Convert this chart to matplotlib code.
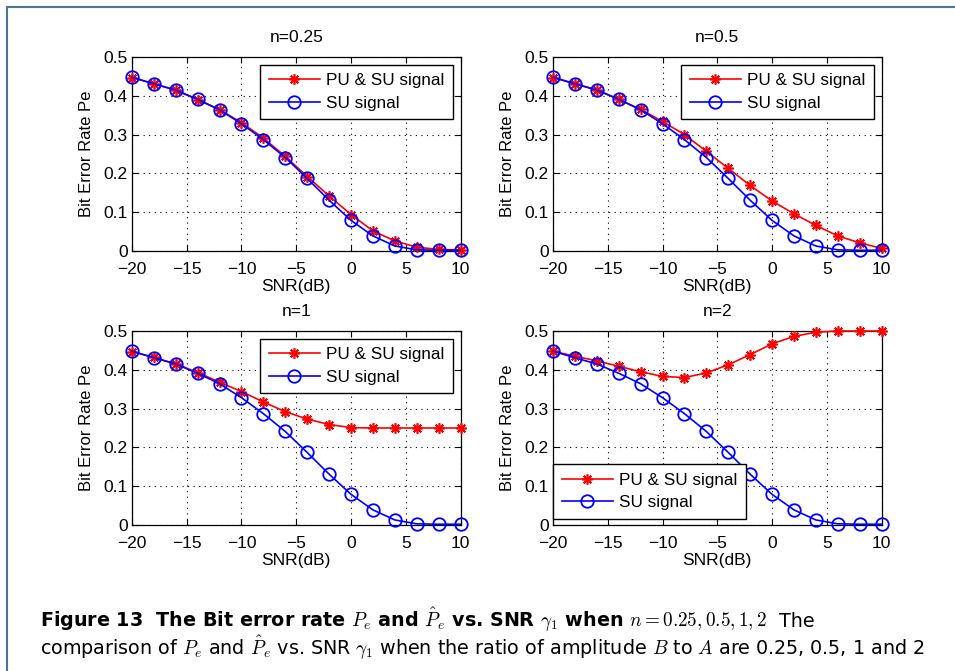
import matplotlib
matplotlib.use('Agg')
import matplotlib.pyplot as plt
from matplotlib.lines import Line2D

plt.rcParams['font.family'] = ['Liberation Sans', 'DejaVu Sans']
plt.rcParams['mathtext.fontset'] = 'cm'

# SNR values (dB)
snr = [-20, -18, -16, -14, -12, -10, -8, -6, -4, -2, 0, 2, 4, 6, 8, 10]

# SU signal only (same in all panels)
su = [0.448, 0.431, 0.415, 0.391, 0.364, 0.328, 0.287, 0.241, 0.187, 0.131,
      0.079, 0.039, 0.013, 0.003, 0.002, 0.002]

# PU & SU signal for each n
pu_025 = [0.447, 0.431, 0.414, 0.390, 0.364, 0.331, 0.291, 0.244, 0.192, 0.142,
          0.094, 0.052, 0.026, 0.010, 0.004, 0.003]
pu_05 = [0.447, 0.431, 0.415, 0.391, 0.365, 0.334, 0.300, 0.257, 0.213, 0.169,
         0.129, 0.096, 0.066, 0.039, 0.021, 0.007]
pu_1 = [0.447, 0.432, 0.415, 0.393, 0.368, 0.344, 0.317, 0.292, 0.273, 0.259,
        0.251, 0.250, 0.250, 0.250, 0.250, 0.250]
pu_2 = [0.448, 0.435, 0.423, 0.409, 0.395, 0.383, 0.380, 0.392, 0.413, 0.439,
        0.467, 0.486, 0.497, 0.500, 0.500, 0.500]

titles = ['n=0.25', 'n=0.5', 'n=1', 'n=2']
pu_all = [pu_025, pu_05, pu_1, pu_2]

fig = plt.figure(figsize=(9.55, 6.71), dpi=100)

# axes rectangles in figure fractions
lefts = [0.1382, 0.5791, 0.1382, 0.5791]
bottoms = [0.6259, 0.6259, 0.2176, 0.2176]
w, h = 0.3440, 0.2891

asterisk = (8, 2, 0)
fs = 12.5

for i in range(4):
    ax = fig.add_axes([lefts[i], bottoms[i], w, h])
    ax.plot(snr, pu_all[i], color='red', lw=1.2, marker=asterisk, ms=7.5,
            mew=1.2, label='PU & SU signal', clip_on=False, zorder=3)
    ax.plot(snr, su, color='blue', lw=1.2, marker='o', ms=9, mfc='none',
            mew=1.3, label='SU signal', clip_on=False, zorder=3)
    ax.set_xlim(-20, 10)
    ax.set_ylim(0, 0.5)
    ax.set_xticks([-20, -15, -10, -5, 0, 5, 10])
    ax.set_yticks([0, 0.1, 0.2, 0.3, 0.4, 0.5])
    ax.set_yticklabels(['0', '0.1', '0.2', '0.3', '0.4', '0.5'])
    ax.tick_params(direction='in', top=True, right=True, labelsize=fs,
                   length=4)
    ax.tick_params(axis='x', pad=8)
    ax.tick_params(axis='y', pad=3)
    ax.grid(True, linestyle=(0, (1, 4)), color='black', lw=0.8)
    for s in ax.spines.values():
        s.set_linewidth(0.9)
    ax.set_title(titles[i], fontsize=fs, pad=10.5)
    ax.set_xlabel('SNR(dB)', fontsize=fs, labelpad=1.5)
    ax.set_ylabel('Bit Error Rate Pe', fontsize=12, labelpad=7)

    kw = dict(fontsize=12.3, fancybox=False, edgecolor='black', framealpha=1,
              handlelength=3.0, handletextpad=0.35, labelspacing=0.45,
              borderpad=0.5)
    if i < 3:
        leg = ax.legend(loc='upper right', borderaxespad=0.45, **kw)
    else:
        leg = ax.legend(loc='lower left', bbox_to_anchor=(0, 0.031),
                        borderaxespad=0, **kw)
    leg.get_frame().set_linewidth(1.0)
    leg.set_zorder(5)

# frame lines at left and top
fig.add_artist(Line2D([7 / 955, 1], [1 - 7 / 671, 1 - 7 / 671],
                      color='#4f7399', lw=1.5, transform=fig.transFigure))
fig.add_artist(Line2D([7 / 955, 7 / 955], [0, 1 - 7 / 671],
                      color='#4f7399', lw=1.5, transform=fig.transFigure))

# caption
cfs = 13.8
cap1 = (r'Figure 13  The Bit error rate $P_e$ and $\hat{P}_e$'
        r' vs. SNR $\gamma_1$ when $n = \mathbf{0.25, 0.5, 1, 2}$')
t1 = fig.text(40 / 955, 1 - 627 / 671, cap1, fontsize=cfs, fontweight='bold',
              va='baseline', ha='left', family='DejaVu Sans')
fig.canvas.draw()
bb = t1.get_window_extent()
fig.text((bb.x1 + 12) / 955, 1 - 627 / 671, 'The', fontsize=cfs,
         va='baseline', ha='left', family='DejaVu Sans')
cap2 = (r'comparison of $P_e$ and $\hat{P}_e$ vs. SNR $\gamma_1$ when the ratio'
        r' of amplitude $B$ to $A$ are 0.25, 0.5, 1 and 2')
fig.text(40 / 955, 1 - 655 / 671, cap2, fontsize=cfs, va='baseline',
         ha='left', family='DejaVu Sans')

fig.savefig('out.png', dpi=100)
